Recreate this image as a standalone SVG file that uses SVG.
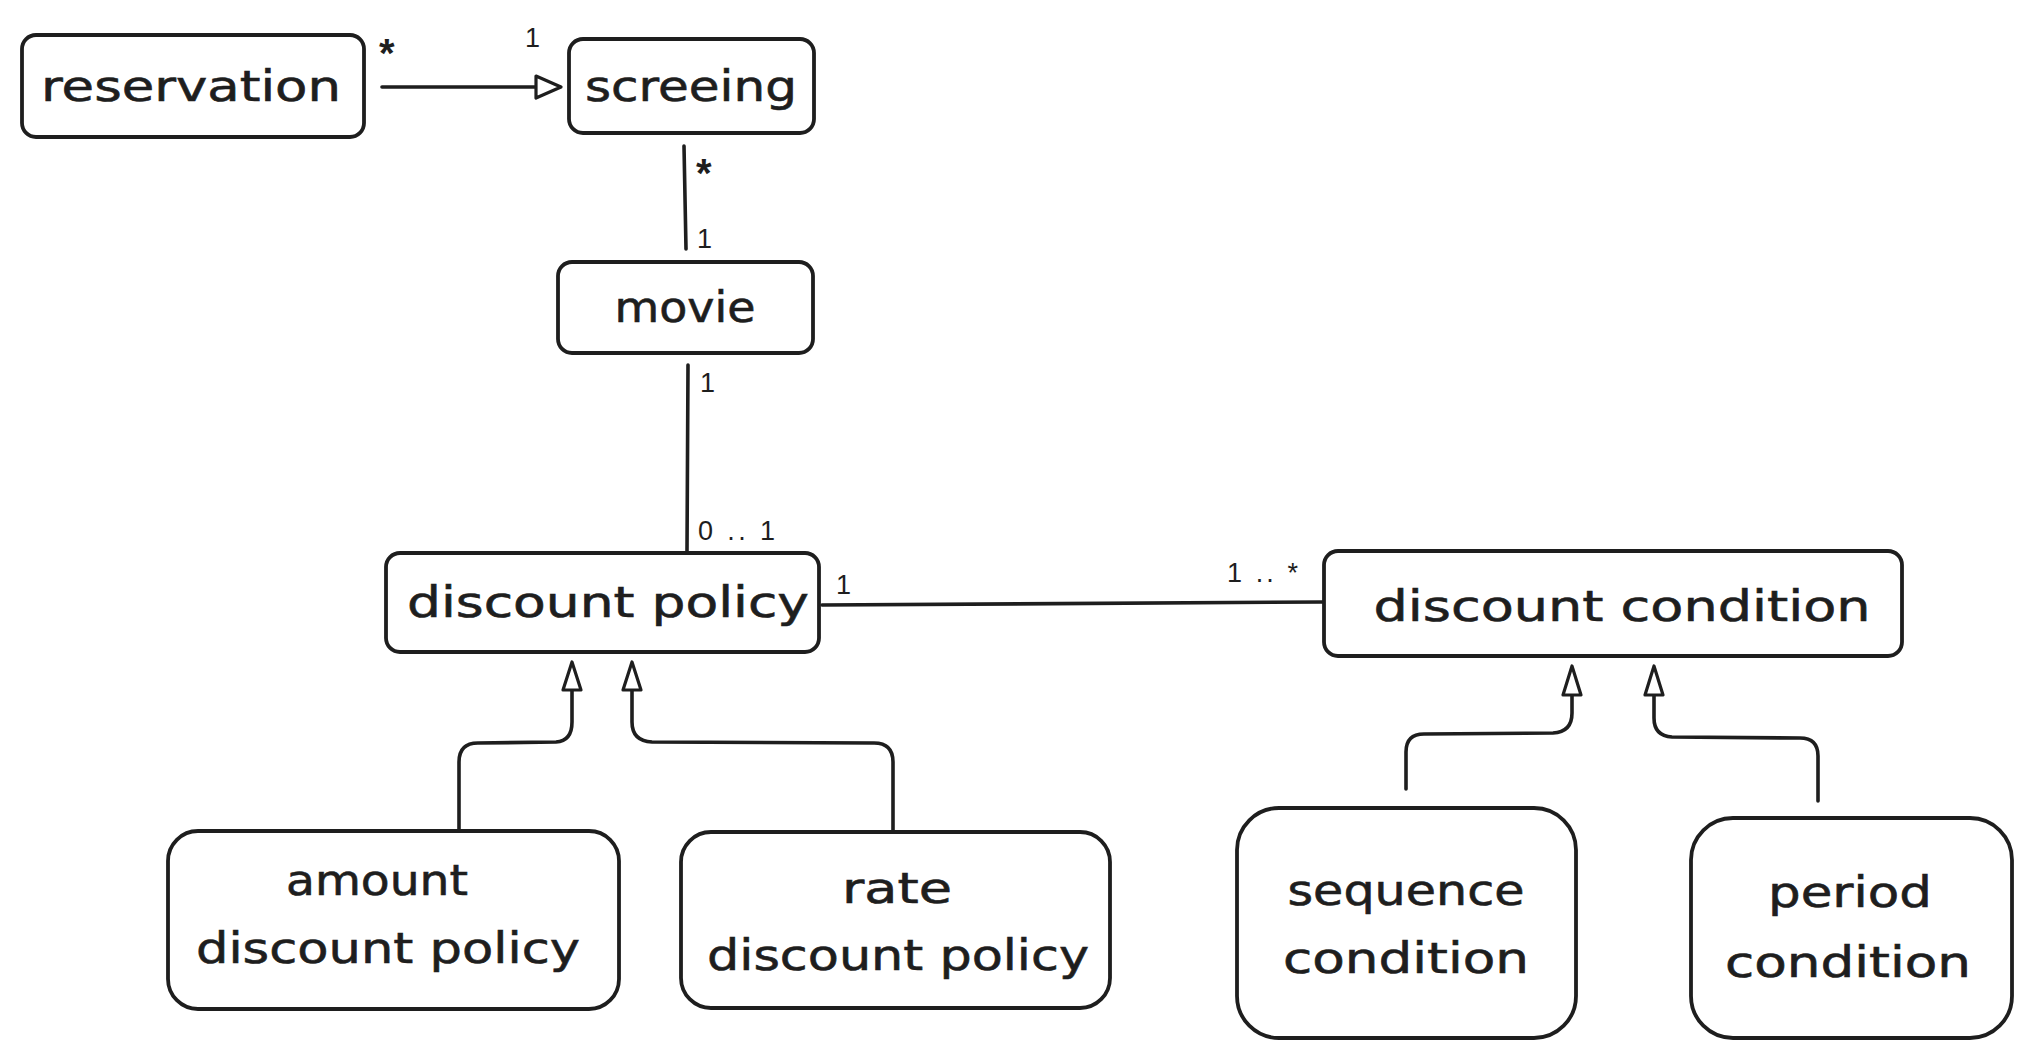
<svg xmlns="http://www.w3.org/2000/svg" width="2026" height="1058" viewBox="0 0 2026 1058">
<style>
.box{fill:#ffffff;stroke:#1e1e1e;stroke-width:3.8}
.t{font-family:"DejaVu Sans","Liberation Sans",sans-serif;font-size:42px;fill:#1e1e1e;stroke:#1e1e1e;stroke-width:0.6;text-anchor:middle}
.lb{font-family:"Liberation Sans",Arial,sans-serif;font-size:27px;fill:#1e1e1e}
.star{font-family:"Liberation Sans",Arial,sans-serif;font-size:40px;font-weight:bold;fill:#1e1e1e}
.ln{fill:none;stroke:#1e1e1e;stroke-width:3.6;stroke-linecap:round;stroke-linejoin:round}
.ah{fill:#ffffff;stroke:#1e1e1e;stroke-width:3.2;stroke-linejoin:round}
</style>
<rect width="2026" height="1058" fill="#ffffff"/>
<g id="connectors">
  <g id="c-reservation-screeing">
    <path class="ln" d="M382 87 L535 87"/>
    <path class="ah" d="M536 76 L561 87 L536 98 Z"/>
    <text class="star" x="379" y="67">*</text>
    <text class="lb" x="525" y="47">1</text>
  </g>
  <g id="c-screeing-movie">
    <path class="ln" d="M684 146 L686 249"/>
    <text class="star" x="696" y="187">*</text>
    <text class="lb" x="697" y="248">1</text>
  </g>
  <g id="c-movie-policy">
    <path class="ln" d="M688 365 L687 551"/>
    <text class="lb" x="700" y="392">1</text>
    <text class="lb" x="698" y="540" textLength="77" lengthAdjust="spacing">0 .. 1</text>
  </g>
  <g id="c-policy-condition">
    <path class="ln" d="M822 605 L1323 602"/>
    <text class="lb" x="836" y="594">1</text>
    <text class="lb" x="1227" y="582" textLength="71" lengthAdjust="spacing">1 .. *</text>
  </g>
  <g id="c-amount-policy">
    <path class="ln" d="M459 830 L459 762 Q459 743 478 743 L556 742 Q572 741 572 722 L572 690"/>
    <path class="ah" d="M563 690 L572 662 L581 690 Z"/>
  </g>
  <g id="c-rate-policy">
    <path class="ln" d="M893 830 L893 762 Q893 743 874 743 L652 742 Q632 741 632 722 L632 690"/>
    <path class="ah" d="M623 690 L632 662 L641 690 Z"/>
  </g>
  <g id="c-sequence-condition">
    <path class="ln" d="M1406 789 L1406 752 Q1406 734 1424 734 L1553 733 Q1572 732 1572 713 L1572 695"/>
    <path class="ah" d="M1563 695 L1572 666 L1581 695 Z"/>
  </g>
  <g id="c-period-condition">
    <path class="ln" d="M1818 801 L1818 756 Q1818 738 1800 738 L1672 737 Q1654 736 1654 718 L1654 695"/>
    <path class="ah" d="M1645 695 L1654 666 L1663 695 Z"/>
  </g>
</g>
<g id="node-reservation">
  <rect class="box" x="22" y="35" width="342" height="102" rx="14"/>
  <text class="t" x="191" y="101" textLength="300" lengthAdjust="spacingAndGlyphs">reservation</text>
</g>
<g id="node-screeing">
  <rect class="box" x="569" y="39" width="245" height="94" rx="14"/>
  <text class="t" x="691" y="101" textLength="212" lengthAdjust="spacingAndGlyphs">screeing</text>
</g>
<g id="node-movie">
  <rect class="box" x="558" y="262" width="255" height="91" rx="14"/>
  <text class="t" x="685" y="322" textLength="141" lengthAdjust="spacingAndGlyphs">movie</text>
</g>
<g id="node-discount-policy">
  <rect class="box" x="386" y="553" width="433" height="99" rx="14"/>
  <text class="t" x="608" y="617" textLength="402" lengthAdjust="spacingAndGlyphs">discount policy</text>
</g>
<g id="node-discount-condition">
  <rect class="box" x="1324" y="551" width="578" height="105" rx="14"/>
  <text class="t" x="1622" y="621" textLength="497" lengthAdjust="spacingAndGlyphs">discount condition</text>
</g>
<g id="node-amount-discount-policy">
  <rect class="box" x="168" y="831" width="451" height="178" rx="30"/>
  <text class="t" x="377" y="895" textLength="182" lengthAdjust="spacingAndGlyphs">amount</text>
  <text class="t" x="388" y="963" textLength="384" lengthAdjust="spacingAndGlyphs">discount policy</text>
</g>
<g id="node-rate-discount-policy">
  <rect class="box" x="681" y="832" width="429" height="176" rx="30"/>
  <text class="t" x="897" y="903" textLength="110" lengthAdjust="spacingAndGlyphs">rate</text>
  <text class="t" x="898" y="970" textLength="382" lengthAdjust="spacingAndGlyphs">discount policy</text>
</g>
<g id="node-sequence-condition">
  <rect class="box" x="1237" y="808" width="339" height="230" rx="42"/>
  <text class="t" x="1406" y="905" textLength="237" lengthAdjust="spacingAndGlyphs">sequence</text>
  <text class="t" x="1406" y="973" textLength="246" lengthAdjust="spacingAndGlyphs">condition</text>
</g>
<g id="node-period-condition">
  <rect class="box" x="1691" y="818" width="321" height="220" rx="42"/>
  <text class="t" x="1850" y="907" textLength="164" lengthAdjust="spacingAndGlyphs">period</text>
  <text class="t" x="1848" y="977" textLength="246" lengthAdjust="spacingAndGlyphs">condition</text>
</g>
</svg>
